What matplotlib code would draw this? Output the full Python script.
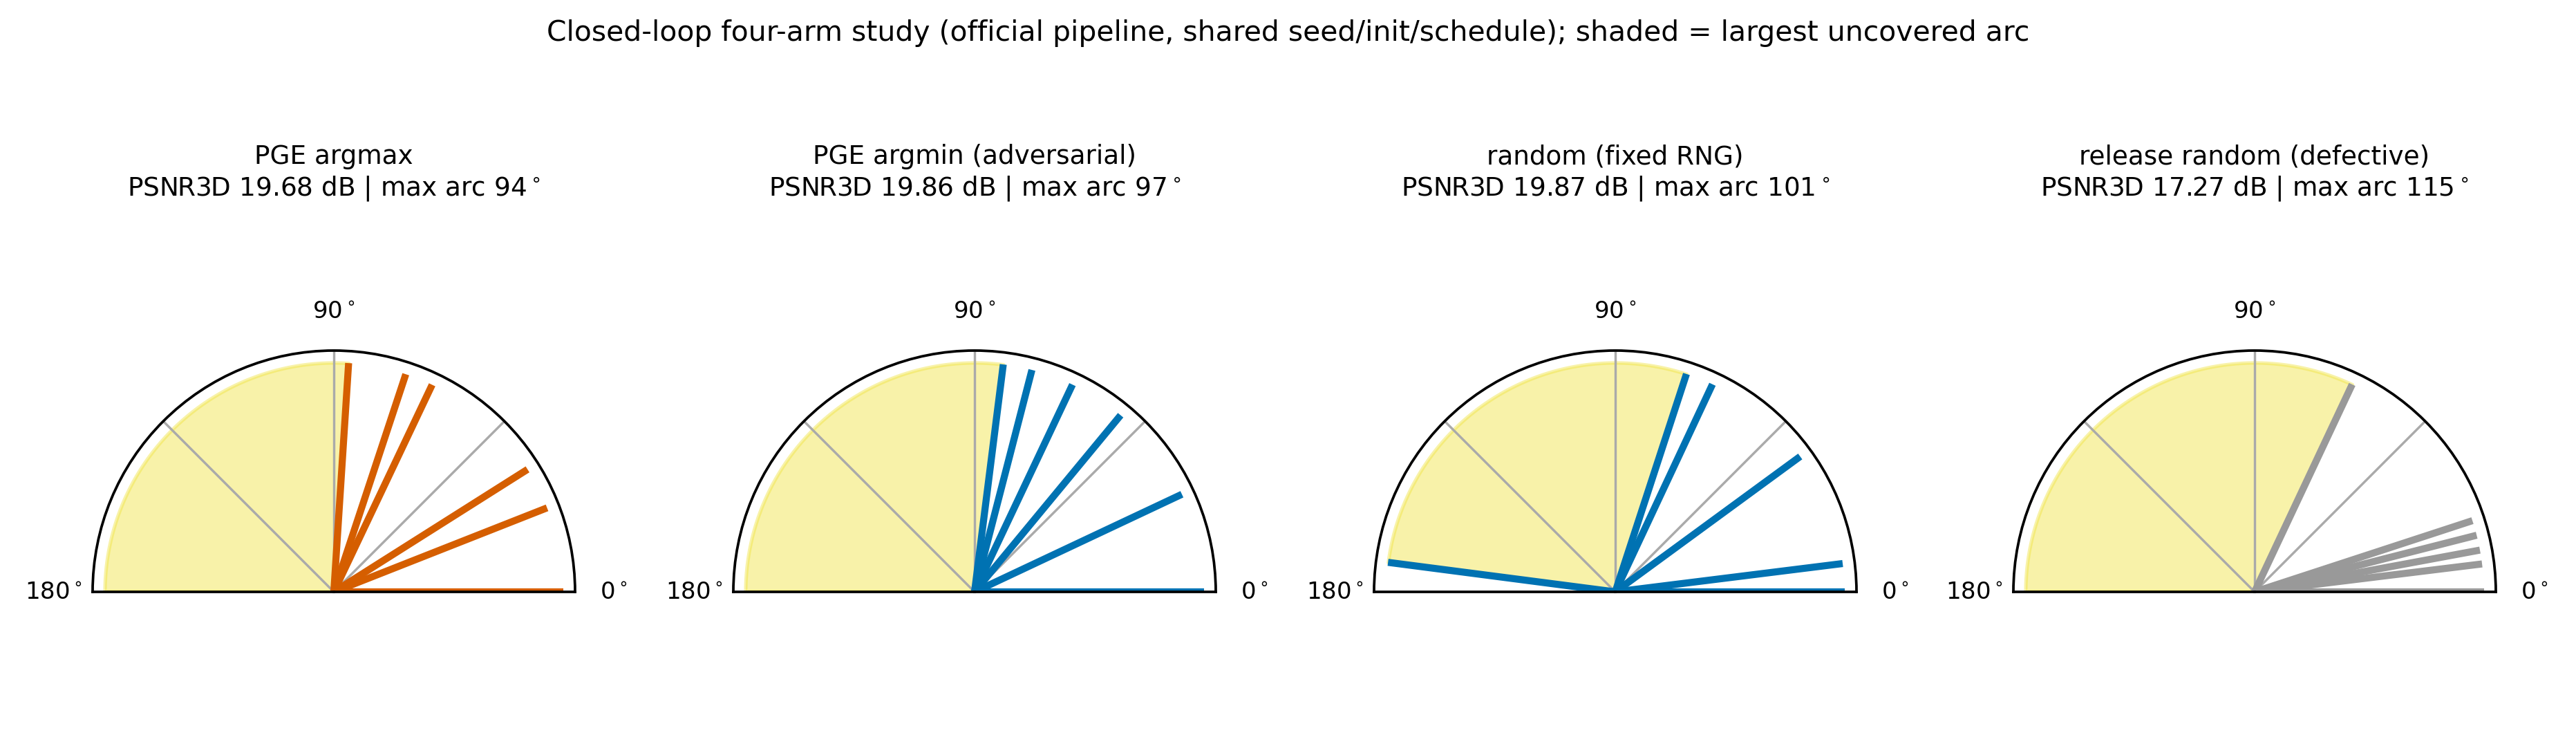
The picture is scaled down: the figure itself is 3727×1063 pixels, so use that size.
import numpy as np
import matplotlib
matplotlib.use("Agg")
import matplotlib.pyplot as plt

# projection angles (degrees) per arm
arms = ["PGE argmax", "PGE argmin (adversarial)", "random (fixed RNG)", "release random (defective)"]
psnr = [19.68, 19.86, 19.87, 17.27]
angles_argmax = [0.0, 21.5, 32.3, 64.6, 71.7, 86.3]
angles_argmin = [0.0, 25.2, 50.4, 64.7, 75.5, 82.8]
angles_random = [0.0, 7.1, 36.2, 64.9, 71.9, 172.6]
angles_release = [0.0, 7.0, 10.5, 14.3, 18.1, 64.8]
colors = ["#D55E00", "#0072B2", "#0072B2", "#999999"]

all_angles = [angles_argmax, angles_argmin, angles_random, angles_release]


def largest_gap(a):
    a = np.sort(np.asarray(a) % 180.0)
    ext = np.append(a, a[0] + 180.0)
    d = np.diff(ext)
    i = int(np.argmax(d))
    return ext[i], ext[i + 1], d[i]


dpi = 245
W, H = 3727, 1063
fig = plt.figure(figsize=(W / dpi, H / dpi), dpi=dpi)

# half-disc geometry in pixels
R = 349
centers = [483, 1410, 2337, 3262]
base_y = 856
mid_y = base_y - R / 2  # the wedge is centred vertically in a square box

for k, (name, p, ang, col) in enumerate(zip(arms, psnr, all_angles, colors)):
    left = (centers[k] - R) / W
    bottom = (H - (mid_y + R)) / H
    ax = fig.add_axes([left, bottom, 2 * R / W, 2 * R / H], projection="polar")
    ax.set_thetamin(0)
    ax.set_thetamax(180)
    ax.set_ylim(0, 1)
    ax.set_yticks([])

    g0, g1, gw = largest_gap(ang)
    th = np.radians(np.linspace(g0, g1, 200))
    ax.fill_between(th, 0, 0.95, color="#F0E442", alpha=0.45, lw=1.5)

    for a in ang:
        t = np.radians(a)
        ax.plot([t, t], [0, 0.95], color=col, lw=3, solid_capstyle="butt")

    ax.set_thetagrids([0, 45, 90, 135, 180],
                      labels=["0$^\\circ$", "", "90$^\\circ$", "", "180$^\\circ$"])
    ax.grid(color="#aaaaaa", lw=1.0)
    for s in ax.spines.values():
        s.set_linewidth(1.1)
    ax.tick_params(axis="x", labelsize=10, pad=6)
    top_px = mid_y - R
    ax.set_title(f"{name}\nPSNR3D {p:.2f} dB | max arc {gw:.0f}$^\\circ$",
                 fontsize=11, y=1 + (top_px - 282) / (2 * R), pad=0)

fig.suptitle("Closed-loop four-arm study (official pipeline, shared seed/init/schedule); "
             "shaded = largest uncovered arc", fontsize=12, y=1 - 48 / H, va="center")

fig.savefig("out.png", dpi=dpi)
